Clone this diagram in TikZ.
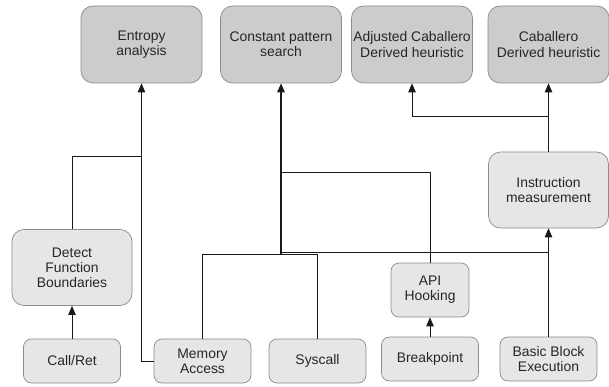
\documentclass[tikz,border=0pt]{standalone}
\usepackage{fontspec}
\setmainfont{Liberation Sans}
\usetikzlibrary{arrows.meta}
\definecolor{topfill}{HTML}{CCCCCC}
\definecolor{lowfill}{HTML}{E6E6E6}
\definecolor{boxline}{HTML}{8C8C8C}
\begin{document}
\begin{tikzpicture}[x=1pt,y=-1pt,
  box/.style={draw=boxline, line width=0.7pt, rounded corners=12pt, align=center, inner sep=0pt,
    font=\fontsize{13.9}{15.2}\selectfont, text=black!85},
  topbox/.style={box, fill=topfill, minimum width=121pt, minimum height=77pt},
  midbox/.style={box, fill=lowfill, minimum width=120pt, minimum height=76pt},
  lowbox/.style={box, fill=lowfill, rounded corners=8pt, minimum width=97pt, minimum height=44pt},
  apibox/.style={box, fill=lowfill, rounded corners=8pt, minimum width=78pt, minimum height=54pt},
  wire/.style={line width=0.8pt, draw=black!90},
  arr/.style={wire, -{Triangle[length=9pt,width=7.5pt]}},
]
\useasboundingbox (0,0) rectangle (609,387);

% top row
\node[topbox] (ent) at (141.5,44.5) {Entropy\\analysis};
\node[topbox] (const) at (281,44.5) {Constant pattern\\search};
\node[topbox] (adj) at (412,44.5) {Adjusted Caballero\\Derived heuristic};
\node[topbox] (cab) at (548.5,44.5) {Caballero\\Derived heuristic};

% middle
\node[midbox] (instr) at (548.5,190) {Instruction\\measurement};
\node[midbox] (det) at (72,267.5) {Detect\\Function\\Boundaries};
\node[apibox] (api) at (430,290) {API\\Hooking};

% bottom row
\node[lowbox] (call) at (72,361) {Call/Ret};
\node[lowbox] (mem) at (202.5,361) {Memory\\Access};
\node[lowbox] (sys) at (317.5,361) {Syscall};
\node[lowbox] (brk) at (430,359) {Breakpoint};
\node[lowbox] (bb) at (548.5,359) {Basic Block\\Execution};

% junction coordinates
\coordinate (jdet) at (141.5,156);
\coordinate (jc) at (281,254);
\coordinate (jcm) at (281,252.4);
\coordinate (jbb) at (548.5,252.4);
\coordinate (jm) at (202.5,254);
\coordinate (js) at (317.5,254);
\coordinate (japi) at (281,172.3);
\coordinate (jins) at (548.5,116.7);

% connectors
\draw[arr] (call) -- (det);
\draw[wire] (det.north) |- (jdet);
\draw[arr] (mem.west) -| (ent.south);

\draw[wire] (mem.north) -- (jm) -- (js) -- (sys.north);
\draw[wire] (api.north) |- (japi);
\draw[wire] (jbb) -- (jcm);
\draw[arr, line width=1.5pt] (jc) -- (const.south);

\draw[arr] (brk) -- (api);
\draw[arr] (bb) -- (instr);
\draw[arr] (instr) -- (cab);
\draw[arr] (jins) -| (adj.south);
\end{tikzpicture}
\end{document}
